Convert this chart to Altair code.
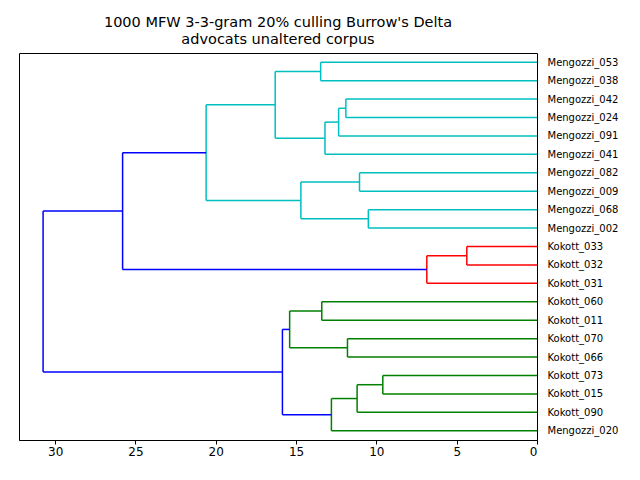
import altair as alt
import pandas as pd

leaves = ["Mengozzi_053","Mengozzi_038","Mengozzi_042","Mengozzi_024","Mengozzi_091",
          "Mengozzi_041","Mengozzi_082","Mengozzi_009","Mengozzi_068","Mengozzi_002",
          "Kokott_033","Kokott_032","Kokott_031","Kokott_060","Kokott_011",
          "Kokott_070","Kokott_066","Kokott_073","Kokott_015","Kokott_090","Mengozzi_020"]
merge_id    = ["m1","m2","m3","m4","m5","m6","m7","m8","m9","k1","k2","c1","g1","g2","g3","g4","g5","g6","g7","root"]
merge_left  = ["Mengozzi_053","Mengozzi_042","m2","m3","m1","Mengozzi_082","Mengozzi_068","m6","m5","Kokott_033","k1","m9",
               "Kokott_060","Kokott_070","g1","Kokott_073","g4","g5","g3","c1"]
merge_right = ["Mengozzi_038","Mengozzi_024","Mengozzi_091","Mengozzi_041","m4","Mengozzi_009","Mengozzi_002","m7","m8","Kokott_032","Kokott_031","k2",
               "Kokott_011","Kokott_066","g2","Kokott_015","Kokott_090","Mengozzi_020","g6","g7"]
merge_height = [13.47,11.9,12.35,13.2,16.3,11.05,10.5,14.7,20.6,4.37,6.86,25.8,
                13.4,11.8,15.4,9.6,11.2,12.8,15.85,30.75]
merge_color = ["c","c","c","c","c","c","c","c","c","r","r","b","g","g","g","g","g","g","b","b"]
palette = {"c":"#00bfbf","r":"#ff0000","g":"#008000","b":"#0000ff"}

pos = {n: 5 + 10 * i for i, n in enumerate(leaves)}
hgt = {n: 0.0 for n in leaves}
rows = []
for mid, l, r, h, c in zip(merge_id, merge_left, merge_right, merge_height, merge_color):
    col = palette[c]
    rows.append(dict(x=h, x2=h, y=pos[l], y2=pos[r], col=col))
    rows.append(dict(x=hgt[l], x2=h, y=pos[l], y2=pos[l], col=col))
    rows.append(dict(x=hgt[r], x2=h, y=pos[r], y2=pos[r], col=col))
    pos[mid] = (pos[l] + pos[r]) / 2
    hgt[mid] = h
df = pd.DataFrame(rows)

n = len(leaves)
label_arr = "[" + ",".join("'%s'" % s for s in leaves) + "]"

chart = alt.Chart(df).mark_rule(strokeWidth=1.5).encode(
    x=alt.X("x:Q", scale=alt.Scale(domain=[0, 32.25], reverse=True, nice=False),
            axis=alt.Axis(values=[0,5,10,15,20,25,30], format="d", title=None, grid=False,
                          labelFontSize=12, labelColor="black", tickColor="black",
                          domainColor="black", labelFont="DejaVu Sans", tickSize=4)),
    x2="x2:Q",
    y=alt.Y("y:Q", scale=alt.Scale(domain=[0, 10 * n], reverse=True, nice=False),
            axis=alt.Axis(orient="right", values=[5 + 10 * i for i in range(n)],
                          labelExpr=label_arr + "[(datum.value-5)/10]",
                          title=None, grid=False, ticks=False, domain=False,
                          labelFontSize=10, labelColor="black", labelFont="DejaVu Sans",
                          labelPadding=10)),
    y2="y2:Q",
    color=alt.Color("col:N", scale=None),
).properties(
    width=518, height=387,
    title=alt.Title(["1000 MFW 3-3-gram 20% culling Burrow's Delta", "advocats unaltered corpus"],
                    fontSize=14.5, font="DejaVu Sans", fontWeight="normal", anchor="middle",
                    offset=6, lineHeight=17),
    autosize=alt.AutoSizeParams(type="none"),
    padding={"left": 11, "top": 45, "right": 95, "bottom": 32},
).configure_view(stroke="black", strokeWidth=1)

chart.save("out.html", embed_options={"renderer": "svg", "actions": False})
